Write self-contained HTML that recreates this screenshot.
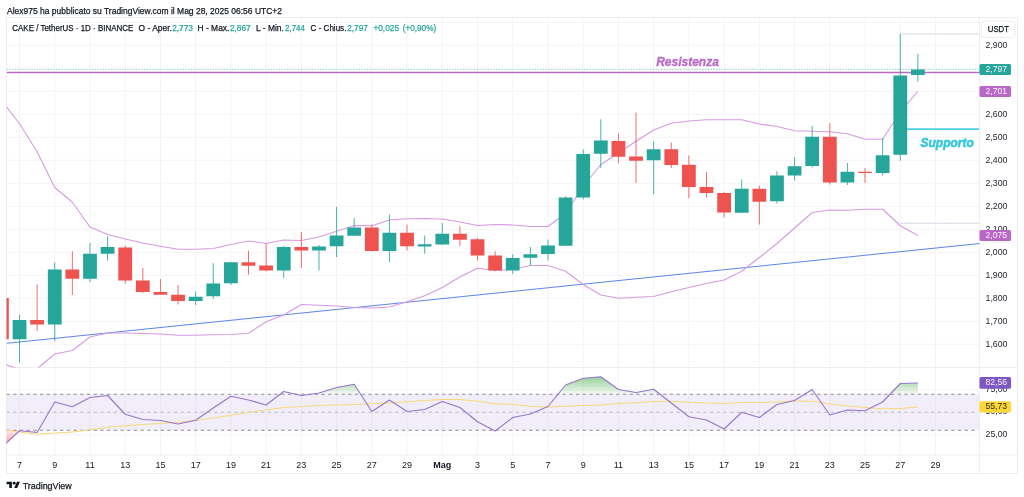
<!DOCTYPE html>
<html lang="it"><head><meta charset="utf-8"><title>CAKE / TetherUS</title>
<style>
html,body{margin:0;padding:0;background:#fff}
body{width:1024px;height:497px;position:relative;overflow:hidden;font-family:"Liberation Sans",sans-serif;color:#131722}
svg{position:absolute;left:0;top:0}
svg text{font-family:"Liberation Sans",sans-serif;stroke-width:.25px;stroke-linejoin:round}
</style></head><body>

<svg width="1024" height="497" viewBox="0 0 1024 497">
<defs><clipPath id="cm"><rect x="6.5" y="17.5" width="973" height="350"/></clipPath><clipPath id="cr"><rect x="6.5" y="368" width="973" height="87"/></clipPath>
<linearGradient id="gg" gradientUnits="userSpaceOnUse" x1="0" y1="376" x2="0" y2="394.25"><stop offset="0" stop-color="#4caf50" stop-opacity="0.62"/><stop offset="1" stop-color="#4caf50" stop-opacity="0.05"/></linearGradient>
<linearGradient id="gr" gradientUnits="userSpaceOnUse" x1="0" y1="430.25" x2="0" y2="446"><stop offset="0" stop-color="#ff5252" stop-opacity="0.1"/><stop offset="1" stop-color="#ff5252" stop-opacity="0.7"/></linearGradient>
<clipPath id="c70"><rect x="6.5" y="368" width="973.5" height="26.25"/></clipPath><clipPath id="c30"><rect x="6.5" y="430.25" width="973.5" height="25"/></clipPath></defs>
<path d="M19.52 17.5V455M54.75 17.5V455M89.98 17.5V455M125.21 17.5V455M160.44 17.5V455M195.67 17.5V455M230.90 17.5V455M266.13 17.5V455M301.36 17.5V455M336.59 17.5V455M371.82 17.5V455M407.05 17.5V455M442.28 17.5V455M477.51 17.5V455M512.74 17.5V455M547.97 17.5V455M583.20 17.5V455M618.43 17.5V455M653.66 17.5V455M688.89 17.5V455M724.12 17.5V455M759.35 17.5V455M794.58 17.5V455M829.81 17.5V455M865.04 17.5V455M900.27 17.5V455M935.50 17.5V455M6.5 22.25H980M6.5 45.25H980M6.5 68.25H980M6.5 91.25H980M6.5 114.25H980M6.5 137.25H980M6.5 160.25H980M6.5 183.25H980M6.5 206.25H980M6.5 229.25H980M6.5 252.25H980M6.5 275.25H980M6.5 298.25H980M6.5 321.25H980M6.5 344.25H980M6.5 389.9H980M6.5 434.8H980" stroke="#f4f4f6" stroke-width="1" fill="none"/>
<path d="M6.5 17.5H1017.5V473.5H6.5ZM6.5 367.5H1017.5M6.5 455H1017.5M979.5 17.5V473.5" stroke="#eeeef2" stroke-width="1" fill="none"/>
<g clip-path="url(#cm)">
<path d="M6.5 69.5H980" stroke="#26a69a" stroke-opacity="0.55" stroke-width="0.9" stroke-dasharray="1.4 1.35" fill="none"/>
<path d="M899.9 34H980M899.9 223.25H980" stroke="#c6c8d8" stroke-width="0.9" stroke-dasharray="1.6 0.5" fill="none"/>
<path d="M7 343.25L980 243.5" stroke="#5b86ea" stroke-width="1" fill="none"/>
<polyline points="1.91,100.90 19.52,123.75 37.13,151.75 54.75,187.50 72.36,202.25 89.98,227.00 107.59,234.50 125.21,239.00 142.82,243.00 160.44,246.25 178.06,249.25 195.67,249.25 213.28,248.50 230.90,244.50 248.51,241.00 266.13,243.50 283.74,240.00 301.36,240.50 318.97,237.00 336.59,231.25 354.20,225.50 371.82,225.75 389.43,220.00 407.05,218.75 424.66,218.50 442.28,219.00 459.89,222.00 477.51,225.50 495.12,224.50 512.74,225.00 530.36,226.50 547.97,226.50 565.58,213.50 583.20,186.25 600.81,164.50 618.43,153.00 636.04,141.25 653.66,130.00 671.27,123.25 688.89,121.00 706.50,119.75 724.12,119.75 741.73,119.75 759.35,124.00 776.96,126.50 794.58,130.75 812.19,131.25 829.81,131.75 847.42,133.75 865.04,139.25 882.65,139.25 900.27,112.00 917.88,91.25" stroke="#d898e3" stroke-width="1.1" fill="none" stroke-linejoin="round"/>
<polyline points="1.91,363.20 19.52,369.40 37.13,368.70 54.75,354.00 72.36,350.50 89.98,337.00 107.59,333.00 125.21,333.00 142.82,333.50 160.44,334.00 178.06,335.25 195.67,335.25 213.28,334.75 230.90,334.50 248.51,333.25 266.13,321.75 283.74,315.00 301.36,304.50 318.97,305.25 336.59,306.00 354.20,307.50 371.82,308.00 389.43,307.00 407.05,301.75 424.66,295.75 442.28,287.50 459.89,277.00 477.51,268.25 495.12,270.50 512.74,269.25 530.36,265.50 547.97,265.50 565.58,271.25 583.20,284.50 600.81,295.00 618.43,298.25 636.04,297.25 653.66,296.50 671.27,291.75 688.89,287.50 706.50,283.50 724.12,280.00 741.73,271.25 759.35,257.50 776.96,243.50 794.58,228.00 812.19,212.50 829.81,210.00 847.42,210.25 865.04,209.25 882.65,209.25 900.27,225.75 917.88,235.50" stroke="#d898e3" stroke-width="1.1" fill="none" stroke-linejoin="round"/>
<path d="M6.5 72.6H980" stroke="#ba68c8" stroke-width="1.5" fill="none"/>
<path d="M907 129.1H979" stroke="#4dd0e1" stroke-width="1.8" fill="none"/>
<path d="M19.52 315V362.5M54.75 262.5V341.25M89.98 243V282M107.59 236.25V260.75M195.67 291.25V305M213.28 263.25V299M230.90 261.75V285M283.74 246V278M318.97 245V270.5M336.59 206.75V257M354.20 218V235.75M389.43 214.5V262M424.66 235.5V253.75M442.28 223V245M512.74 254.25V273.75M530.36 247V265.75M547.97 239.5V260.5M565.58 196.25V245.75M583.20 149.5V199.5M600.81 119.25V168M653.66 141.25V194M741.73 179.5V212.8M776.96 171.25V203.6M794.58 157V180.5M812.19 125.75V167.5M847.42 163V185M882.65 138V175.5M900.27 34V160.75M917.88 53.75V81.75" stroke="#26a69a" stroke-width="0.85" fill="none"/>
<path d="M1.91 298V339.25M37.13 284.5V330.75M72.36 251.25V295M125.21 245.5V283.75M142.82 268V293.25M160.44 279V294.75M178.06 285V304.5M248.51 250.75V274.5M266.13 243.25V271.25M301.36 232V268M371.82 224.5V251.75M407.05 224.5V250.5M459.89 226.25V245.75M477.51 238V260.5M495.12 251.25V271.25M618.43 133.25V163.25M636.04 112.5V183M671.27 142.5V168M688.89 155.5V198.25M706.50 172V197.5M724.12 192V217.5M759.35 186V224.6M829.81 123V184.5M865.04 168V183" stroke="#ef5350" stroke-width="0.85" fill="none"/>
<path d="M12.62 320h13.8v19.25h-13.8zM47.85 269.5h13.8v55.00h-13.8zM83.08 253.75h13.8v25.00h-13.8zM100.69 247h13.8v6.75h-13.8zM188.77 296.75h13.8v4.25h-13.8zM206.38 283.5h13.8v12.75h-13.8zM224.00 262.25h13.8v21.00h-13.8zM276.84 247h13.8v23.50h-13.8zM312.07 246.5h13.8v4.00h-13.8zM329.69 235.5h13.8v10.75h-13.8zM347.30 227.5h13.8v8.25h-13.8zM382.53 232.75h13.8v18.25h-13.8zM417.76 244.25h13.8v2.25h-13.8zM435.38 233.75h13.8v10.75h-13.8zM505.84 258h13.8v12.50h-13.8zM523.46 254.25h13.8v3.50h-13.8zM541.07 245.5h13.8v8.50h-13.8zM558.68 197.5h13.8v48.25h-13.8zM576.30 154h13.8v43.50h-13.8zM593.91 140.5h13.8v13.25h-13.8zM646.76 149.25h13.8v11.00h-13.8zM734.83 188.7h13.8v24.10h-13.8zM770.06 175.5h13.8v25.70h-13.8zM787.68 166.25h13.8v9.25h-13.8zM805.29 136.75h13.8v29.25h-13.8zM840.52 171.75h13.8v10.75h-13.8zM875.75 155.25h13.8v17.75h-13.8zM893.37 75.5h13.8v79.25h-13.8zM910.98 69.5h13.8v5.50h-13.8z" fill="#26a69a"/>
<path d="M-4.99 298h13.8v41.25h-13.8zM30.23 320h13.8v4.50h-13.8zM65.46 269.5h13.8v9.25h-13.8zM118.31 247.5h13.8v33.00h-13.8zM135.92 280.5h13.8v11.50h-13.8zM153.54 292h13.8v2.75h-13.8zM171.16 294.75h13.8v6.25h-13.8zM241.61 262.25h13.8v3.50h-13.8zM259.23 265.5h13.8v5.00h-13.8zM294.46 247h13.8v3.50h-13.8zM364.92 227.5h13.8v23.50h-13.8zM400.15 232.75h13.8v13.50h-13.8zM452.99 233.75h13.8v6.00h-13.8zM470.61 239.25h13.8v16.25h-13.8zM488.22 255.5h13.8v15.00h-13.8zM611.53 141h13.8v15.75h-13.8zM629.14 156.5h13.8v4.25h-13.8zM664.38 149.25h13.8v15.75h-13.8zM681.99 164.75h13.8v22.25h-13.8zM699.60 187h13.8v6.00h-13.8zM717.22 193h13.8v19.50h-13.8zM752.45 188.7h13.8v13.00h-13.8zM822.91 136.75h13.8v45.75h-13.8zM858.14 171.75h13.8v1.25h-13.8z" fill="#ef5350"/>
</g>
<text x="687.5" y="66.3" text-anchor="middle" font-size="12" font-weight="bold" font-style="italic" fill="#ba68c8" stroke="#ba68c8" style="stroke-width:.3px">Resistenza</text>
<text x="947.2" y="146.8" text-anchor="middle" font-size="12" font-weight="bold" font-style="italic" fill="#2fc6dc" stroke="#2fc6dc" style="stroke-width:.45px">Supporto</text>
<g clip-path="url(#cr)">
<rect x="6.5" y="394.25" width="973" height="36" fill="#7e57c2" fill-opacity="0.1"/>
<polygon points="1.91,394.25 1.91,447.30 19.52,430.75 37.13,432.50 54.75,402.00 72.36,406.75 89.98,397.50 107.59,395.50 125.21,414.25 142.82,419.50 160.44,420.50 178.06,424.00 195.67,420.25 213.28,408.00 230.90,396.25 248.51,400.00 266.13,405.00 283.74,391.50 301.36,395.50 318.97,393.00 336.59,387.50 354.20,384.25 371.82,411.50 389.43,400.00 407.05,411.50 424.66,409.50 442.28,401.50 459.89,407.50 477.51,421.75 495.12,431.00 512.74,417.50 530.36,414.00 547.97,406.50 565.58,385.00 583.20,378.25 600.81,376.75 618.43,389.50 636.04,392.50 653.66,389.25 671.27,403.00 688.89,416.75 706.50,420.00 724.12,429.00 741.73,412.25 759.35,417.50 776.96,404.50 794.58,400.50 812.19,389.50 829.81,415.00 847.42,410.00 865.04,410.75 882.65,402.00 900.27,383.50 917.88,383.00 917.88,394.25" fill="url(#gg)" clip-path="url(#c70)"/>
<polygon points="1.91,430.25 1.91,447.30 19.52,430.75 37.13,432.50 54.75,402.00 72.36,406.75 89.98,397.50 107.59,395.50 125.21,414.25 142.82,419.50 160.44,420.50 178.06,424.00 195.67,420.25 213.28,408.00 230.90,396.25 248.51,400.00 266.13,405.00 283.74,391.50 301.36,395.50 318.97,393.00 336.59,387.50 354.20,384.25 371.82,411.50 389.43,400.00 407.05,411.50 424.66,409.50 442.28,401.50 459.89,407.50 477.51,421.75 495.12,431.00 512.74,417.50 530.36,414.00 547.97,406.50 565.58,385.00 583.20,378.25 600.81,376.75 618.43,389.50 636.04,392.50 653.66,389.25 671.27,403.00 688.89,416.75 706.50,420.00 724.12,429.00 741.73,412.25 759.35,417.50 776.96,404.50 794.58,400.50 812.19,389.50 829.81,415.00 847.42,410.00 865.04,410.75 882.65,402.00 900.27,383.50 917.88,383.00 917.88,430.25" fill="url(#gr)" clip-path="url(#c30)"/>
<path d="M6.5 394.25H976M6.5 430.25H976" stroke="#8a8d97" stroke-width="1" stroke-dasharray="3.3 3.4" fill="none"/>
<path d="M6.5 412.25H976" stroke="#b9bbc4" stroke-width="1" stroke-dasharray="3.3 3.4" fill="none"/>
<polyline points="1.91,429.50 19.52,432.00 37.13,434.25 54.75,433.00 72.36,432.00 89.98,429.75 107.59,427.25 125.21,425.75 142.82,424.50 160.44,423.50 178.06,422.25 195.67,420.50 213.28,418.00 230.90,415.25 248.51,412.25 266.13,410.00 283.74,407.50 301.36,406.50 318.97,405.50 336.59,405.00 354.20,404.50 371.82,403.75 389.43,403.00 407.05,401.75 424.66,400.50 442.28,399.50 459.89,399.50 477.51,401.25 495.12,403.75 512.74,404.50 530.36,406.25 547.97,407.00 565.58,406.25 583.20,405.50 600.81,405.00 618.43,403.50 636.04,402.75 653.66,401.50 671.27,401.25 688.89,402.25 706.50,403.00 724.12,403.50 741.73,402.50 759.35,402.50 776.96,402.00 794.58,401.00 812.19,401.25 829.81,404.00 847.42,406.00 865.04,407.50 882.65,408.75 900.27,408.50 917.88,407.00" stroke="#f7d878" stroke-width="1" fill="none" stroke-linejoin="round"/>
<polyline points="1.91,447.30 19.52,430.75 37.13,432.50 54.75,402.00 72.36,406.75 89.98,397.50 107.59,395.50 125.21,414.25 142.82,419.50 160.44,420.50 178.06,424.00 195.67,420.25 213.28,408.00 230.90,396.25 248.51,400.00 266.13,405.00 283.74,391.50 301.36,395.50 318.97,393.00 336.59,387.50 354.20,384.25 371.82,411.50 389.43,400.00 407.05,411.50 424.66,409.50 442.28,401.50 459.89,407.50 477.51,421.75 495.12,431.00 512.74,417.50 530.36,414.00 547.97,406.50 565.58,385.00 583.20,378.25 600.81,376.75 618.43,389.50 636.04,392.50 653.66,389.25 671.27,403.00 688.89,416.75 706.50,420.00 724.12,429.00 741.73,412.25 759.35,417.50 776.96,404.50 794.58,400.50 812.19,389.50 829.81,415.00 847.42,410.00 865.04,410.75 882.65,402.00 900.27,383.50 917.88,383.00" stroke="#9575cd" stroke-width="1.1" fill="none" stroke-linejoin="round"/>
</g>
<g font-size="9" fill="#1c202b" stroke="none">
<text x="985.5" y="48.45" textLength="22" lengthAdjust="spacingAndGlyphs">2,900</text>
<text x="985.5" y="117.45" textLength="22" lengthAdjust="spacingAndGlyphs">2,600</text>
<text x="985.5" y="140.45" textLength="22" lengthAdjust="spacingAndGlyphs">2,500</text>
<text x="985.5" y="163.45" textLength="22" lengthAdjust="spacingAndGlyphs">2,400</text>
<text x="985.5" y="186.45" textLength="22" lengthAdjust="spacingAndGlyphs">2,300</text>
<text x="985.5" y="209.45" textLength="22" lengthAdjust="spacingAndGlyphs">2,200</text>
<text x="985.5" y="232.45" textLength="22" lengthAdjust="spacingAndGlyphs">2,100</text>
<text x="985.5" y="255.45" textLength="22" lengthAdjust="spacingAndGlyphs">2,000</text>
<text x="985.5" y="278.45" textLength="22" lengthAdjust="spacingAndGlyphs">1,900</text>
<text x="985.5" y="301.45" textLength="22" lengthAdjust="spacingAndGlyphs">1,800</text>
<text x="985.5" y="324.45" textLength="22" lengthAdjust="spacingAndGlyphs">1,700</text>
<text x="985.5" y="347.45" textLength="22" lengthAdjust="spacingAndGlyphs">1,600</text>
<text x="985.5" y="391.70" textLength="22" lengthAdjust="spacingAndGlyphs">75,00</text>
<text x="985.5" y="414.30" textLength="22" lengthAdjust="spacingAndGlyphs">50,00</text>
<text x="985.5" y="436.95" textLength="22" lengthAdjust="spacingAndGlyphs">25,00</text>
</g>
<rect x="979.5" y="63.9" width="31.5" height="11.2" rx="1.5" fill="#26a69a"/>
<text x="985.5" y="71.85" font-size="8.7" fill="#fff" fill-opacity="0.93" stroke="none" textLength="21.6" lengthAdjust="spacingAndGlyphs">2,797</text>
<rect x="979.5" y="86" width="31.5" height="11" rx="1.5" fill="#ba68c8"/>
<text x="985.5" y="93.85" font-size="8.7" fill="#fff" fill-opacity="0.93" stroke="none" textLength="21.6" lengthAdjust="spacingAndGlyphs">2,701</text>
<rect x="979.5" y="230" width="31.5" height="11" rx="1.5" fill="#ba68c8"/>
<text x="985.5" y="237.85" font-size="8.7" fill="#fff" fill-opacity="0.93" stroke="none" textLength="21.6" lengthAdjust="spacingAndGlyphs">2,075</text>
<rect x="979.5" y="377" width="31.5" height="11.8" rx="1.5" fill="#7e57c2"/>
<text x="985.5" y="385.25" font-size="8.7" fill="#fff" fill-opacity="0.93" stroke="none" textLength="21.6" lengthAdjust="spacingAndGlyphs">82,56</text>
<rect x="979.5" y="401.25" width="31.5" height="11.25" rx="1.5" fill="#fdd835"/>
<text x="985.5" y="409.23" font-size="8.7" fill="#131722" fill-opacity="0.93" stroke="none" textLength="21.6" lengthAdjust="spacingAndGlyphs">55,73</text>
<rect x="981.5" y="21.2" width="33.5" height="16.2" rx="2.5" fill="#fff" stroke="#eceef2" stroke-width="1"/>
<text x="987.8" y="32.2" font-size="8.6" fill="#131722" stroke="#131722" textLength="21.2" lengthAdjust="spacingAndGlyphs">USDT</text>
<g font-size="9" fill="#131722" stroke="none" text-anchor="middle">
<text x="19.52" y="468.2">7</text>
<text x="54.75" y="468.2">9</text>
<text x="89.98" y="468.2">11</text>
<text x="125.21" y="468.2">13</text>
<text x="160.44" y="468.2">15</text>
<text x="195.67" y="468.2">17</text>
<text x="230.90" y="468.2">19</text>
<text x="266.13" y="468.2">21</text>
<text x="301.36" y="468.2">23</text>
<text x="336.59" y="468.2">25</text>
<text x="371.82" y="468.2">27</text>
<text x="407.05" y="468.2">29</text>
<text x="442.28" y="468.2" font-weight="bold">Mag</text>
<text x="477.51" y="468.2">3</text>
<text x="512.74" y="468.2">5</text>
<text x="547.97" y="468.2">7</text>
<text x="583.20" y="468.2">9</text>
<text x="618.43" y="468.2">11</text>
<text x="653.66" y="468.2">13</text>
<text x="688.89" y="468.2">15</text>
<text x="724.12" y="468.2">17</text>
<text x="759.35" y="468.2">19</text>
<text x="794.58" y="468.2">21</text>
<text x="829.81" y="468.2">23</text>
<text x="865.04" y="468.2">25</text>
<text x="900.27" y="468.2">27</text>
<text x="935.50" y="468.2">29</text>
</g>
<text x="7" y="13.55" font-size="9" fill="#131722" stroke="#131722" textLength="275.00" lengthAdjust="spacingAndGlyphs">Alex975 ha pubblicato su TradingView.com il Mag 28, 2025 06:56 UTC+2</text>
<text x="12.3" y="31.15" font-size="9" fill="#131722" stroke="#131722" textLength="121.00" lengthAdjust="spacingAndGlyphs">CAKE / TetherUS · 1D · BINANCE</text>
<text x="138.6" y="31.15" font-size="9" fill="#131722" stroke="#131722" textLength="33.30" lengthAdjust="spacingAndGlyphs">O - Aper.</text>
<text x="172.2" y="31.15" font-size="9" fill="#26a69a" stroke="#26a69a" textLength="20.80" lengthAdjust="spacingAndGlyphs">2,773</text>
<text x="197.5" y="31.15" font-size="9" fill="#131722" stroke="#131722" textLength="31.90" lengthAdjust="spacingAndGlyphs">H - Max.</text>
<text x="230" y="31.15" font-size="9" fill="#26a69a" stroke="#26a69a" textLength="20.60" lengthAdjust="spacingAndGlyphs">2,867</text>
<text x="256" y="31.15" font-size="9" fill="#131722" stroke="#131722" textLength="27.90" lengthAdjust="spacingAndGlyphs">L - Min.</text>
<text x="285" y="31.15" font-size="9" fill="#26a69a" stroke="#26a69a" textLength="20.00" lengthAdjust="spacingAndGlyphs">2,744</text>
<text x="310.6" y="31.15" font-size="9" fill="#131722" stroke="#131722" textLength="35.80" lengthAdjust="spacingAndGlyphs">C - Chius.</text>
<text x="347.2" y="31.15" font-size="9" fill="#26a69a" stroke="#26a69a" textLength="20.60" lengthAdjust="spacingAndGlyphs">2,797</text>
<text x="373.4" y="31.15" font-size="9" fill="#26a69a" stroke="#26a69a" textLength="25.60" lengthAdjust="spacingAndGlyphs">+0,025</text>
<text x="402.7" y="31.15" font-size="9" fill="#26a69a" stroke="#26a69a" textLength="33.50" lengthAdjust="spacingAndGlyphs">(+0,90%)</text>
<text x="22.65" y="488.6" font-size="8.9" fill="#131722" stroke="#131722" textLength="49.15" lengthAdjust="spacingAndGlyphs">TradingView</text>
<g transform="translate(6.6,481.8) scale(0.377,0.35)" fill="#131722"><path d="M14 18H7V7H0V0h14v18zM28 18h-8l7.5-18h8L28 18z"/><circle cx="20" cy="4" r="4"/></g>
</svg>
</body></html>
